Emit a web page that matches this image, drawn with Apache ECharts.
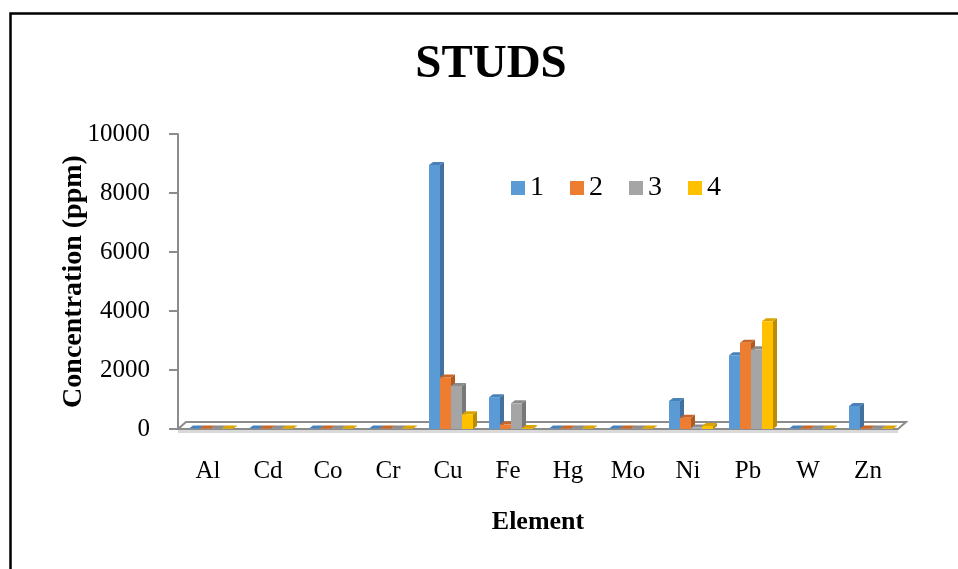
<!DOCTYPE html>
<html>
<head>
<meta charset="utf-8">
<title>STUDS</title>
<script src="https://cdn.jsdelivr.net/npm/echarts@6/dist/echarts.min.js"></script>
<style>
  html, body { margin: 0; padding: 0; background: #ffffff; }
  #chart { width: 958px; height: 569px; }
</style>
</head>
<body>
<div id="chart"></div>
<script>
// Element categories on the x axis
const elements = ['Al', 'Cd', 'Co', 'Cr', 'Cu', 'Fe', 'Hg', 'Mo', 'Ni', 'Pb', 'W', 'Zn'];

// Concentration (ppm) for each sample
const sample1 = [15, 15, 15, 15, 8950, 1080, 15, 15, 950, 2500, 15, 780];
const sample2 = [15, 15, 15, 15, 1750, 150, 15, 15, 380, 2920, 15, 20];
const sample3 = [15, 15, 15, 15, 1460, 870, 15, 15, 50, 2700, 15, 20];
const sample4 = [15, 15, 15, 15, 500, 30, 15, 15, 100, 3650, 15, 20];

const seriesNames = ['1', '2', '3', '4'];
const seriesValues = [sample1, sample2, sample3, sample4];

// Y axis ticks
const yTicks = { min: 0, max: 10000, interval: 2000 };

const faceColors = [
  { front: '#5b9bd5', side: '#41719c', top: '#4a82b8' },
  { front: '#ed7d31', side: '#ae5a21', top: '#c8662a' },
  { front: '#a5a5a5', side: '#787878', top: '#8c8c8c' },
  { front: '#ffc000', side: '#bc8c00', top: '#d9a300' }
];

const serif = '"Liberation Serif", "Times New Roman", serif';
const DEPTH_X = 4, DEPTH_Y = 3;

// Draws one column with a front face, a darker side face and a top face
function makeBarRenderer(si) {
  const c = faceColors[si];
  return function (params, api) {
    const cat = api.value(0);
    const val = api.value(1);
    const base = api.coord([cat, 0]);
    const top = api.coord([cat, val]);
    const band = api.size([1, 0])[0];
    const w = band * 11 / 60;
    const x = base[0] - 2 * w + si * w + 3;
    const yT = top[1], yB = base[1];
    return {
      type: 'group',
      children: [
        {
          type: 'polygon',
          shape: { points: [[x + w, yT], [x + w + DEPTH_X, yT - DEPTH_Y], [x + w + DEPTH_X, yB - DEPTH_Y], [x + w, yB]] },
          style: { fill: c.side }
        },
        {
          type: 'polygon',
          shape: { points: [[x, yT], [x + DEPTH_X, yT - DEPTH_Y], [x + w + DEPTH_X, yT - DEPTH_Y], [x + w, yT]] },
          style: { fill: c.top }
        },
        {
          type: 'rect',
          shape: { x: x, y: yT, width: w, height: Math.max(yB - yT, 0) },
          style: { fill: c.front }
        }
      ]
    };
  };
}

// Floor plate under the columns, sized from the grid rectangle
function renderFloor(params, api) {
  const cs = params.coordSys;
  const x0 = cs.x, x1 = cs.x + cs.width, y0 = cs.y + cs.height;
  const d = 8, h = 7;
  return {
    type: 'group',
    children: [
      {
        type: 'polygon',
        shape: { points: [[x0, y0], [x1, y0], [x1 + d, y0 - h], [x0 + d, y0 - h]] },
        style: { fill: '#ffffff', stroke: '#8c8c8c', lineWidth: 2 }
      },
      {
        type: 'rect',
        shape: { x: x0, y: y0 + 1, width: cs.width, height: 3 },
        style: { fill: '#d9d9d9' }
      }
    ]
  };
}

const series = [
  {
    name: 'floor',
    type: 'custom',
    renderItem: renderFloor,
    data: [[0, 0]],
    silent: true,
    z: 1
  }
];
seriesValues.forEach(function (vals, si) {
  series.push({
    name: seriesNames[si],
    type: 'custom',
    renderItem: makeBarRenderer(si),
    itemStyle: { color: faceColors[si].front },
    encode: { x: 0, y: 1 },
    data: vals.map(function (v, i) { return [i, v]; }),
    z: 2 + si
  });
});

const chart = echarts.init(document.getElementById('chart'), null, { renderer: 'canvas' });
chart.setOption({
  backgroundColor: '#ffffff',
  animation: false,
  title: {
    text: 'STUDS',
    left: 486,
    top: 36,
    textAlign: 'center',
    textStyle: { fontFamily: serif, fontWeight: 'bold', fontSize: 47, color: '#000000' }
  },
  legend: {
    data: seriesNames,
    left: 511,
    top: 174,
    padding: 0,
    icon: 'rect',
    itemWidth: 14,
    itemHeight: 14,
    itemGap: 26,
    textStyle: { fontFamily: serif, fontSize: 28, color: '#000000' }
  },
  grid: { left: 178, right: 60, top: 134, bottom: 140, containLabel: false },
  xAxis: {
    type: 'category',
    data: elements,
    name: 'Element',
    nameLocation: 'middle',
    nameGap: 80,
    nameMoveOverlap: false,
    nameTextStyle: { fontFamily: serif, fontWeight: 'bold', fontSize: 26, color: '#000000' },
    axisLine: { show: false },
    axisTick: { show: false },
    axisLabel: { margin: 30, fontFamily: serif, fontSize: 25, color: '#000000' },
    splitLine: { show: false }
  },
  yAxis: {
    type: 'value',
    min: yTicks.min,
    max: yTicks.max,
    interval: yTicks.interval,
    name: 'Concentration (ppm)',
    nameLocation: 'middle',
    nameGap: 90,
    nameMoveOverlap: false,
    nameTextStyle: { fontFamily: serif, fontWeight: 'bold', fontSize: 28, color: '#000000' },
    axisLine: { show: true, lineStyle: { color: '#8c8c8c', width: 2 } },
    axisTick: { show: true, length: 9, lineStyle: { color: '#8c8c8c', width: 2 } },
    axisLabel: {
      margin: 28,
      fontFamily: serif,
      fontSize: 25,
      color: '#000000',
      formatter: function (v) { return String(v); }
    },
    splitLine: { show: false }
  },
  graphic: [
    {
      type: 'rect',
      left: 8,
      top: 11,
      shape: { width: 1000, height: 600 },
      style: { fill: 'none', stroke: '#000000', lineWidth: 2.5 },
      z: 0
    }
  ],
  series: series
});
</script>
</body>
</html>
